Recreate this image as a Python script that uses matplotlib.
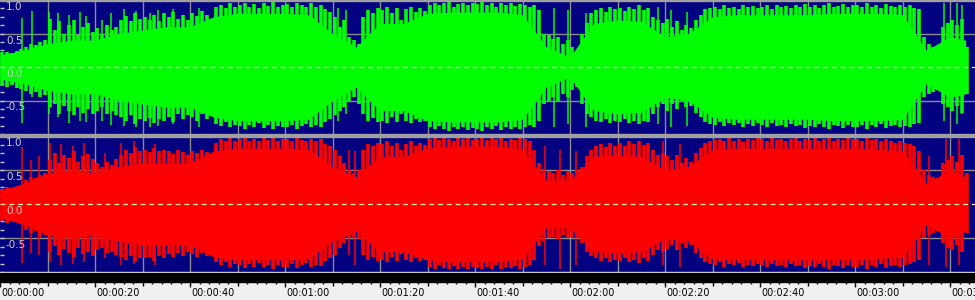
import numpy as np
import matplotlib.pyplot as plt

# time axis, one peak value per second (0..204 s)
seconds = np.arange(205)

green_top = [
    .22, .23, .21, .24, .27, .30, .34, .33, .38, .40,
    .72, .55, .68, .50, .62, .70, .48, .60, .66, .52,
    .58, .50, .62, .55, .60, .70, .76, .68, .80, .72,
    .74, .70, .78, .68, .80, .75, .82, .72, .78, .70,
    .80, .76, .84, .78, .50, .90, .93, .88, .95, .90,
    .92, .96, .90, .94, .88, .95, .91, .97, .90, .93,
    .94, .90, .96, .92, .89, .95, .90, .93, .86, .82,
    .75, .60, .70, .45, .40, .35, .75, .85, .80, .88,
    .85, .90, .80, .88, .70, .86, .90, .82, .88, .84,
    .93, .96, .92, .95, .97, .90, .94, .96, .92, .95,
    .94, .97, .92, .95, .90, .96, .93, .95, .91, .94,
    .93, .90, .92, .85, .50, .48, .42, .45, .35, .40,
    .30, .20, .50, .65, .80, .85, .88, .82, .90, .86,
    .88, .84, .90, .86, .92, .85, .88, .75, .70, .65,
    .72, .60, .68, .55, .62, .58, .70, .78, .86, .88,
    .90, .86, .92, .88, .90, .87, .93, .89, .91, .88,
    .90, .92, .87, .93, .89, .91, .88, .92, .90, .94,
    .90, .93, .88, .92, .95, .89, .91, .94, .90, .92,
    .93, .89, .95, .90, .92, .88, .94, .91, .90, .93,
    .90, .92, .88, .86, .45, .35, .30, .28, .60, .65,
    .70, .62, .72, .30, 0.0,
]
green_bot = [
    -.28, -.30, -.27, -.32, -.33, -.36, -.40, -.38, -.45, -.42,
    -.60, -.55, -.70, -.58, -.65, -.72, -.60, -.68, -.62, -.70,
    -.65, -.60, -.70, -.66, -.72, -.75, -.80, -.72, -.85, -.78,
    -.80, -.76, -.84, -.78, -.80, -.75, -.82, -.70, -.78, -.72,
    -.74, -.80, -.70, -.78, -.50, -.85, -.88, -.82, -.90, -.86,
    -.88, -.92, -.86, -.90, -.84, -.91, -.87, -.93, -.88, -.90,
    -.90, -.86, -.92, -.88, -.85, -.90, -.87, -.90, -.82, -.78,
    -.72, -.65, -.60, -.50, -.45, -.55, -.70, -.80, -.76, -.82,
    -.80, -.84, -.75, -.82, -.70, -.80, -.84, -.78, -.82, -.80,
    -.90, -.93, -.88, -.92, -.95, -.89, -.93, -.90, -.94, -.91,
    -.92, -.95, -.90, -.93, -.88, -.94, -.90, -.92, -.89, -.93,
    -.90, -.87, -.90, -.80, -.55, -.50, -.45, -.50, -.40, -.45,
    -.35, -.30, -.55, -.70, -.75, -.80, -.82, -.78, -.84, -.80,
    -.82, -.78, -.84, -.80, -.85, -.80, -.82, -.70, -.60, -.55,
    -.65, -.55, -.62, -.50, -.60, -.58, -.68, -.75, -.82, -.85,
    -.86, -.82, -.88, -.84, -.87, -.83, -.89, -.85, -.88, -.84,
    -.87, -.89, -.84, -.88, -.86, -.90, -.85, -.88, -.87, -.91,
    -.88, -.90, -.85, -.89, -.92, -.86, -.88, -.91, -.87, -.90,
    -.90, -.86, -.92, -.87, -.89, -.85, -.91, -.88, -.87, -.90,
    -.88, -.90, -.85, -.84, -.45, -.40, -.38, -.35, -.55, -.60,
    -.65, -.58, -.68, -.40, 0.0,
]
red_top = [
    .22, .25, .20, .24, .26, .35, .40, .38, .42, .45,
    .65, .75, .60, .72, .68, .78, .62, .70, .74, .66,
    .60, .55, .62, .58, .66, .72, .80, .75, .84, .78,
    .80, .76, .82, .78, .80, .78, .74, .80, .76, .72,
    .78, .75, .80, .76, .45, .90, .95, .92, .97, .93,
    .95, .98, .93, .96, .92, .97, .94, .98, .93, .96,
    .96, .93, .97, .94, .92, .96, .93, .95, .88, .85,
    .80, .70, .60, .50, .45, .50, .80, .88, .85, .90,
    .88, .92, .85, .90, .80, .88, .92, .86, .90, .87,
    .95, .97, .94, .98, .96, .93, .97, .95, .98, .94,
    .96, .98, .94, .97, .95, .98, .93, .96, .94, .97,
    .95, .92, .80, .60, .52, .48, .45, .50, .42, .48,
    .45, .50, .55, .70, .80, .85, .88, .84, .90, .86,
    .90, .86, .92, .88, .93, .87, .90, .80, .72, .75,
    .70, .65, .72, .60, .68, .62, .75, .82, .90, .93,
    .94, .96, .92, .97, .93, .95, .91, .96, .94, .97,
    .95, .93, .97, .94, .96, .92, .95, .97, .93, .96,
    .94, .97, .92, .95, .98, .93, .96, .94, .97, .95,
    .96, .93, .97, .94, .95, .92, .96, .93, .90, .92,
    .90, .88, .85, .78, .50, .42, .40, .38, .60, .65,
    .70, .62, .72, .45, 0.0,
]
red_bot = [
    -.25, -.28, -.24, -.27, -.30, -.38, -.42, -.40, -.48, -.45,
    -.70, -.62, -.75, -.66, -.72, -.78, -.65, -.74, -.70, -.76,
    -.68, -.65, -.72, -.70, -.75, -.78, -.82, -.76, -.85, -.80,
    -.80, -.78, -.84, -.76, -.80, -.74, -.78, -.72, -.76, -.70,
    -.74, -.78, -.72, -.76, -.50, -.85, -.90, -.86, -.92, -.88,
    -.90, -.94, -.88, -.92, -.87, -.93, -.89, -.95, -.90, -.92,
    -.92, -.88, -.94, -.90, -.87, -.92, -.89, -.91, -.84, -.80,
    -.75, -.65, -.58, -.50, -.48, -.52, -.75, -.82, -.78, -.84,
    -.82, -.86, -.78, -.84, -.74, -.82, -.86, -.80, -.84, -.82,
    -.92, -.95, -.90, -.94, -.96, -.91, -.95, -.92, -.96, -.93,
    -.94, -.96, -.92, -.95, -.90, -.96, -.92, -.94, -.91, -.95,
    -.92, -.90, -.82, -.62, -.55, -.50, -.48, -.52, -.45, -.50,
    -.48, -.50, -.58, -.70, -.76, -.80, -.84, -.80, -.86, -.82,
    -.84, -.80, -.86, -.82, -.87, -.80, -.84, -.75, -.68, -.70,
    -.66, -.60, -.68, -.58, -.65, -.60, -.72, -.80, -.86, -.88,
    -.90, -.86, -.92, -.88, -.90, -.87, -.93, -.89, -.91, -.88,
    -.90, -.92, -.88, -.91, -.89, -.93, -.88, -.91, -.90, -.94,
    -.91, -.93, -.88, -.92, -.95, -.89, -.91, -.94, -.90, -.93,
    -.93, -.89, -.95, -.90, -.92, -.88, -.94, -.91, -.90, -.93,
    -.90, -.88, -.86, -.82, -.50, -.45, -.42, -.40, -.58, -.65,
    -.68, -.60, -.70, -.42, 0.0,
]

# solid inner body of the waveform, one value every 5 s, last one where the sound stops
core_t = list(range(0, 201, 5)) + [203.3]
green_core = [.18, .25, .35, .40, .40, .50, .55, .60, .60, .75, .80, .80, .80, .78,
              .50, .30, .65, .65, .80, .82, .82, .82, .78, .30, .15, .65, .70, .68,
              .45, .50, .75, .78, .78, .78, .78, .80, .80, .80, .78, .25, .45, .40]
red_core = [.20, .30, .45, .50, .45, .55, .60, .60, .60, .78, .82, .82, .82, .80,
            .55, .40, .70, .70, .82, .85, .85, .85, .80, .35, .35, .70, .72, .70,
            .50, .55, .80, .82, .82, .82, .82, .82, .82, .80, .78, .30, .50, .40]

# isolated peaks standing out of the envelope: time (s), top, bottom
green_spike_t = [4.6, 6.7, 10.3, 12.2, 14.5, 16.8, 18.1, 21.5, 23.4, 26.2, 28.7, 31.5, 33.2,
                 36.5, 41.8, 71.2, 72.9, 116.7, 119.5, 123.4, 138.5, 141.2, 144.6, 198.8, 201.4, 202.6]
green_spike_hi = [.73, .83, .82, .80, .78, .82, .76, .70, .80, .86, .84, .80, .85,
                  .86, .88, .88, .85, .88, .85, .80, .90, .85, .82, .95, .96, .92]
green_spike_lo = [-.84, -.45, -.70, -.75, -.84, -.80, -.82, -.80, -.86, -.88, -.90, -.90, -.88,
                  -.85, -.90, -.80, -.70, -.90, -.85, -.90, -.85, -.90, -.88, -.80, -.85, -.70]
red_spike_t = [4.6, 6.5, 8.2, 10.6, 12.9, 15.3, 17.6, 22.1, 25.5, 28.3, 32.6, 73.5, 74.8,
               114.8, 117.9, 121.3, 139.5, 143.2, 195.6, 199.2, 201.8]
red_spike_hi = [.84, .65, .70, .90, .88, .86, .90, .75, .90, .92, .88, .80, .78,
                .85, .80, .78, .92, .88, .70, .96, .95]
red_spike_lo = [-.87, -.72, -.75, -.85, -.90, -.88, -.85, -.80, -.90, -.88, -.90, -.75, -.90,
                -.90, -.95, -.90, -.90, -.92, -.90, -.92, -.90]

axis_labels = ['1.0', '0.5', '0.0', '-0.5']
label_values = [1.0, 0.5, 0.0, -0.5]

W, H = 975, 300
PX_PER_SEC = 4.75
T_END = W / PX_PER_SEC
NAVY = '#000080'
GRID = '#8c8c8c'


def fy(py):
    return 1 - py / H


fig = plt.figure(figsize=(W / 100, H / 100), dpi=100)
fig.patch.set_facecolor('#f0f0f0')

ax_top = fig.add_axes([0, fy(134), 1, 134 / H])
ax_bot = fig.add_axes([0, fy(272), 1, 136 / H])
ax_rul = fig.add_axes([0, 0, 1, 18 / H])


def draw_channel(ax, top, bot, core, sp_t, sp_hi, sp_lo, color, zero_color):
    ax.set_facecolor(NAVY)
    ax.set_xlim(0, T_END)
    ax.set_ylim(-1, 1)
    for t in range(10, 210, 10):
        ax.axvline(t, color=GRID, lw=1, zorder=1)
    for v in (0.5, -0.5):
        ax.axhline(v, color=GRID, lw=1, zorder=1)
    core = np.array(core)
    ax.fill_between(core_t, -core, core, color=color, lw=0, zorder=2)
    # per-second peaks as thick strokes, leaving thin dark gaps between them
    ax.vlines(seconds + 0.5, bot, top, color=color, lw=2.6, zorder=2)
    ax.vlines(sp_t, sp_lo, sp_hi, color=color, lw=1.1, zorder=2)
    ax.axhline(0, color=zero_color, lw=0.9, ls=(0, (4, 3)), zorder=3)
    for s in ax.spines.values():
        s.set_visible(False)
    ax.set_xticks([])
    ax.set_yticks(np.arange(-1, 1.01, 0.125))
    ax.tick_params(axis='y', direction='in', length=3, width=1, color='#c8c8c8',
                   labelleft=False, pad=0)


draw_channel(ax_top, green_top, green_bot, green_core, green_spike_t, green_spike_hi,
             green_spike_lo, '#00ff00', '#e8e8e8')
draw_channel(ax_bot, red_top, red_bot, red_core, red_spike_t, red_spike_hi,
             red_spike_lo, '#ff0000', '#ffe8b0')

# value labels inside each channel
for lab, v in zip(axis_labels, label_values):
    fig.text(6 / W, fy(67 - 67 * v + 2), lab, color='#d0d0d0', fontsize=7.5,
             va='top', ha='left')
    fig.text(6 / W, fy(204 - 68 * v + 2), lab, color='#d0d0d0', fontsize=7.5,
             va='top', ha='left')

# frame pieces: top line, separator, white line and black strip
fig.patches.append(plt.Rectangle((0, fy(1)), 1, 1 / H, transform=fig.transFigure,
                                 color='#a0a0a0', zorder=5))
fig.patches.append(plt.Rectangle((0, fy(137.3)), 1, 3.3 / H, transform=fig.transFigure,
                                 color='#a0a0a0', zorder=5))
fig.patches.append(plt.Rectangle((0, fy(273)), 1, 1.2 / H, transform=fig.transFigure,
                                 color='#f4f4f4', zorder=5))
fig.patches.append(plt.Rectangle((0, fy(282)), 1, 9 / H, transform=fig.transFigure,
                                 color='#000000', zorder=5))

# time ruler
ax_rul.set_facecolor('#f0f0f0')
ax_rul.set_xlim(0, T_END)
ax_rul.set_ylim(18, 0)
ax_rul.axis('off')
for t in range(0, 206, 2):
    if t % 20 == 0:
        length = 5
    elif t % 10 == 0:
        length = 3.5
    else:
        length = 2
    ax_rul.vlines(t, 0, length, color='#000000', lw=1)
for t in range(0, 206, 20):
    lab = '00:%02d:%02d' % (t // 60, t % 60)
    ax_rul.text(t + 1 / PX_PER_SEC, 11.5, lab, fontsize=7, color='#000000',
                ha='left', va='center', clip_on=False)

fig.savefig('out.png', dpi=100, facecolor=fig.get_facecolor())
